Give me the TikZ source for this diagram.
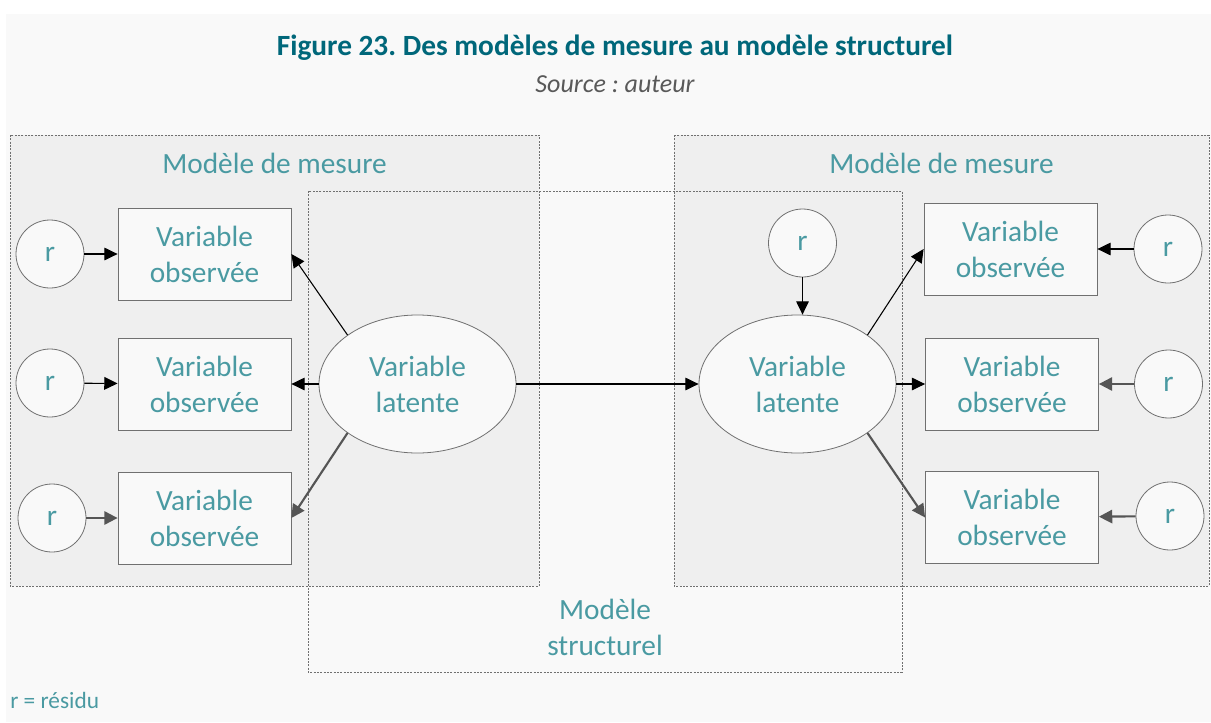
\documentclass[tikz,border=0pt]{standalone}
\usepackage{fontspec}
\setmainfont{Carlito}
\frenchspacing
\usetikzlibrary{shapes.geometric,arrows.meta}
\definecolor{bgc}{HTML}{F9F9F9}
\definecolor{boxc}{HTML}{EFEFEF}
\definecolor{tealtxt}{HTML}{4A9AA2}
\definecolor{titlec}{HTML}{00677A}
\definecolor{srcc}{HTML}{595959}
\definecolor{edgec}{HTML}{707070}
\definecolor{arrg}{HTML}{555555}
\tikzset{
  lbl/.style={text=tealtxt,font=\fontsize{22}{27}\selectfont,align=center,inner sep=0pt},
  obsbox/.style={draw=edgec,line width=0.6pt,fill=bgc,minimum width=129.75pt,minimum height=69pt,inner sep=0pt,text=tealtxt,font=\fontsize{22}{27}\selectfont,align=center},
  resid/.style={circle,draw=edgec,line width=0.6pt,fill=bgc,minimum size=51pt,inner sep=0pt,text=tealtxt,font=\fontsize{22}{27}\selectfont},
  latent/.style={ellipse,draw=edgec,line width=0.6pt,fill=bgc,minimum width=147.75pt,minimum height=103.5pt,inner sep=0pt,text=tealtxt,font=\fontsize{22}{27}\selectfont,align=center},
  zone/.style={draw=edgec,line width=0.6pt,dash pattern=on 1.5pt off 1pt},
  blk/.style={draw=black,line width=0.8pt,-{Triangle[length=10pt,width=9.5pt]}},
  gry/.style={draw=arrg,line width=1.6pt,-{Triangle[length=10pt,width=10pt]}}
}
\begin{document}
\begin{tikzpicture}[x=0.75pt,y=-0.75pt]
\useasboundingbox (0,0) rectangle (1211,722);
\fill[white] (0,0) rectangle (1211,722);
\fill[bgc] (6,14) rectangle (1211,722);
% measurement zones
\fill[boxc] (10,135) rectangle (539,586);
\fill[boxc] (674,135) rectangle (1209,586);
\draw[zone] (10,135) rectangle (539,586);
\draw[zone] (674,135) rectangle (1209,586);
\draw[zone] (308,191) rectangle (902,672);
% titles
\node[text=titlec,font=\fontsize{22}{26}\selectfont\bfseries,inner sep=0pt] (title) at (615,48) {Figure 23. Des modèles de mesure au modèle structurel};
\node[text=srcc,font=\fontsize{19.5}{23}\selectfont\itshape,inner sep=0pt] (src) at (615,84) {Source : auteur};
\node[lbl] (mmL) at (274.5,163) {Modèle de mesure};
\node[lbl] (mmR) at (941.5,163) {Modèle de mesure};
\node[lbl] (ms) at (605,627) {Modèle\\structurel};
\node[text=tealtxt,font=\fontsize{17.5}{21}\selectfont,inner sep=0pt,anchor=west] (leg) at (10,700) {r = résidu};
% left side
\node[obsbox] (b1) at (204.5,254) {Variable\\observée};
\node[obsbox] (b2) at (204.5,384) {Variable\\observée};
\node[obsbox] (b3) at (204.5,518) {Variable\\observée};
\node[resid] (c1) at (50,254) {r};
\node[resid] (c2) at (50,383) {r};
\node[resid] (c3) at (52,518) {r};
\node[latent] (L) at (417.5,384) {Variable\\latente};
% right side
\node[latent] (R) at (797.5,384) {Variable\\latente};
\node[resid] (rt) at (802.5,243) {r};
\node[obsbox] (d1) at (1010.5,249) {Variable\\observée};
\node[obsbox] (d2) at (1012,384) {Variable\\observée};
\node[obsbox] (d3) at (1012,517.5) {Variable\\observée};
\node[resid] (e1) at (1168,249) {r};
\node[resid] (e2) at (1168.5,384) {r};
\node[resid] (e3) at (1170,516) {r};
% arrows
\draw[blk] (c1) -- (b1);
\draw[blk] (c2) -- (b2);
\draw[gry] (c3) -- (b3);
\draw[blk] (L.145) -- (b1.east);
\draw[blk] (L.west) -- (b2.east);
\draw[gry] (L.215) -- (b3.east);
\draw[blk] (L.east) -- (R.west);
\draw[blk] (rt.south) -- (rt.south |- R.north);
\draw[blk] (R.35) -- (d1.west);
\draw[blk] (R.east) -- (d2.west);
\draw[gry] (R.-35) -- (d3.west);
\draw[blk] (e1) -- (d1);
\draw[gry] (e2) -- (d2);
\draw[gry] (e3) -- (d3);
\end{tikzpicture}
\end{document}
